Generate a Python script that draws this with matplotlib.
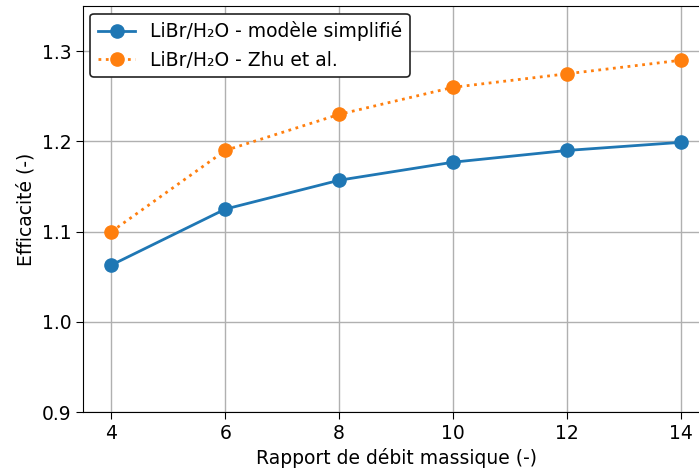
import matplotlib
matplotlib.use('Agg')
import matplotlib.pyplot as plt

ratio = [4, 6, 8, 10, 12, 14]
eff_simple = [1.063, 1.125, 1.157, 1.177, 1.190, 1.199]
eff_zhu = [1.100, 1.190, 1.230, 1.260, 1.275, 1.290]

fig = plt.figure(figsize=(6.99, 4.72), dpi=100)
ax = fig.add_axes([0.1187, 0.127, 0.896, 0.86])

ax.plot(ratio, eff_simple, '-o', color='#1f77b4', lw=2, ms=9.5,
        label='LiBr/H\u2082O - modèle simplifié')
ax.plot(ratio, eff_zhu, ':o', color='#ff7f0e', lw=2, ms=9.5,
        label='LiBr/H\u2082O - Zhu et al.')

ax.set_xlim(3.5, 14.5)
ax.set_ylim(0.9, 1.35)
ax.set_xticks(ratio)
ax.set_yticks([0.9, 1.0, 1.1, 1.2, 1.3])
ax.tick_params(labelsize=13.5, length=5)
ax.grid(True, color='#b0b0b0', lw=1)
ax.set_axisbelow(True)
ax.set_xlabel('Rapport de débit massique (-)', fontsize=13.5)
ax.set_ylabel('Efficacité (-)', fontsize=13.5)
leg = ax.legend(loc='upper left', fontsize=13.5, framealpha=1, edgecolor='#222222',
                borderaxespad=0.4)
leg.get_frame().set_linewidth(1.2)

fig.savefig('out.png', dpi=100)
